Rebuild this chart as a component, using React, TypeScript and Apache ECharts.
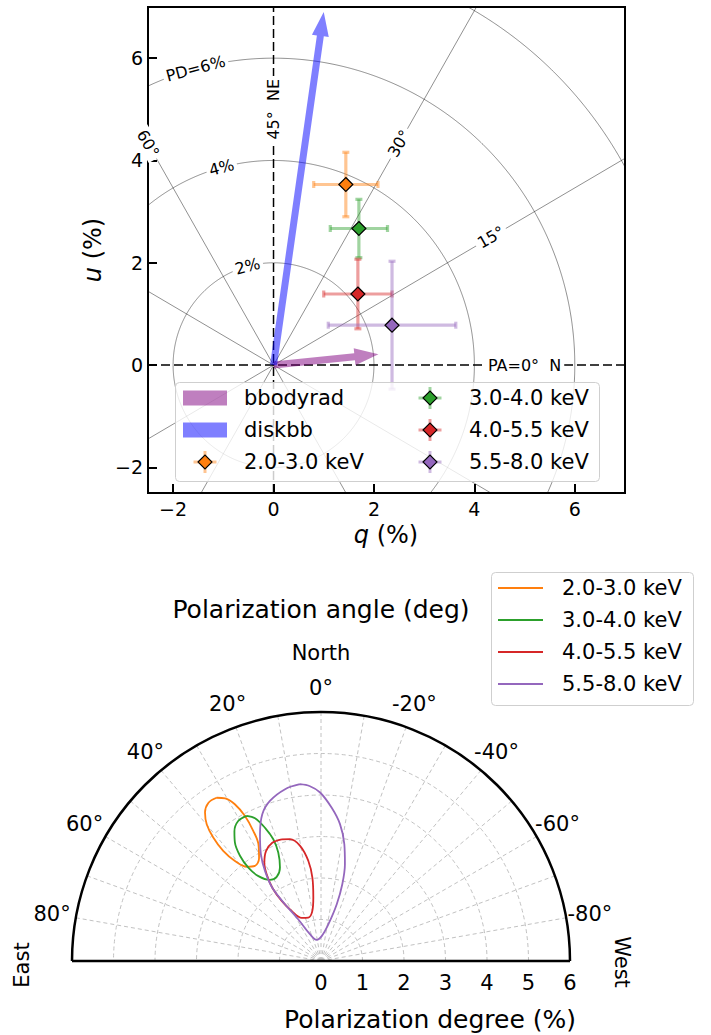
import React, { useEffect, useRef } from 'react';
import * as echarts from 'echarts';

// ---------------- data ----------------
const bands = ['2.0-3.0 keV', '3.0-4.0 keV', '4.0-5.5 keV', '5.5-8.0 keV'];
const bandColors = ['#ff7f0e', '#2ca02c', '#d62728', '#9467bd'];

// Stokes q, u (%) with 1-sigma errors
const qValues = [1.44, 1.70, 1.68, 2.36];
const uValues = [3.53, 2.67, 1.39, 0.78];
const qErrors = [0.64, 0.57, 0.68, 1.27];
const uErrors = [0.63, 0.57, 0.68, 1.25];

// model component arrows (tip q, u in %)
const modelNames = ['bbodyrad', 'diskbb'];
const modelColors = ['rgba(128,0,128,0.5)', 'rgba(0,0,255,0.5)'];
const modelTipQ = [2.09, 1.0];
const modelTipU = [0.21, 6.9];

const qTicks = [-2, 0, 2, 4, 6];
const uTicks = [-2, 0, 2, 4, 6];
const qMin = -2.5, qMax = 7;
const uMin = -2.5, uMax = 7;

// polar guide grid in the q-u plane
const pdCircles = [2, 4, 6, 8];
const pdLabelTexts = ['2%', '4%', 'PD=6%'];
const pdLabelRadii = [2, 4, 6];
const pdLabelPA = 52.5;
const paSpokes = [15, 30, 60, 75];
const paLabelTexts = ['PA=0°  N', '15°', '30°', '45°  NE', '60°'];
const paLabelAngles = [0, 15, 30, 45, 60];
const paLabelRadius = 5;

// contours in (PD %, PA deg)
const contour23 = [
  [4.67, 32.6], [4.68, 35.4], [4.54, 38.0], [4.29, 39.9], [3.95, 41.1], [3.55, 41.6],
  [3.18, 40.7], [2.89, 38.2], [2.79, 34.8], [2.89, 31.1], [3.19, 28.2], [3.53, 27.5],
  [3.95, 27.7], [4.31, 28.8], [4.55, 30.5], [4.67, 32.6],
];
const contour34 = [
  [3.93, 27.1], [3.92, 30.6], [3.76, 33.7], [3.53, 36.0], [3.20, 37.6], [2.85, 37.9],
  [2.54, 36.4], [2.31, 32.2], [2.29, 27.8], [2.46, 23.7], [2.81, 21.5], [3.15, 21.4],
  [3.48, 22.8], [3.79, 24.8], [3.93, 27.1],
];
const contour455 = [
  [3.08, 17.9], [3.08, 22.4], [2.96, 26.6], [2.73, 30.0], [2.46, 32.1], [2.12, 33.6],
  [1.73, 33.2], [1.40, 30.4], [1.14, 24.0], [1.09, 16.3], [1.22, 9.9], [1.54, 6.9],
  [2.02, 5.9], [2.43, 7.2], [2.82, 10.3], [3.03, 14.3], [3.08, 17.9],
];
const contour558 = [
  [4.29, 6.8], [4.23, 11.8], [4.05, 17.7], [3.81, 21.8], [3.39, 25.7], [2.95, 29.4],
  [2.55, 31.9], [2.12, 33.6], [1.62, 32.4], [1.14, 28.6], [0.70, 22.4], [0.52, 11.6],
  [0.60, -1.6], [0.90, -11.3], [1.42, -15.5], [1.92, -15.5], [2.40, -13.9], [2.87, -11.3],
  [3.33, -7.9], [3.70, -4.0], [4.06, 0.3], [4.22, 3.6], [4.29, 6.8],
];
const contours = [contour23, contour34, contour455, contour558];

const pdMin = 0, pdMax = 6;
const paMin = -90, paMax = 90;
const paTickLabels = [80, 60, 40, 20, 0, -20, -40, -60, -80];
const paTickLabelRadius = 6.58;

// ---------------- helpers ----------------
const FONT = '"DejaVu Sans", sans-serif';
const D2R = Math.PI / 180;

function withAlpha(hex: string, a: number) {
  const n = parseInt(hex.slice(1), 16);
  return `rgba(${(n >> 16) & 255},${(n >> 8) & 255},${n & 255},${a})`;
}

function inBox(x: number, y: number) {
  return x >= qMin && x <= qMax && y >= uMin && y <= uMax;
}

function circleSegments(r: number) {
  const segs: number[][][] = [];
  let cur: number[][] = [];
  for (let t = 0; t <= 360.0001; t += 0.2) {
    const x = r * Math.cos(t * D2R), y = r * Math.sin(t * D2R);
    if (inBox(x, y)) cur.push([x, y]);
    else { if (cur.length > 1) segs.push(cur); cur = []; }
  }
  if (cur.length > 1) segs.push(cur);
  return segs;
}

function clipLine(x0: number, y0: number, x1: number, y1: number) {
  let t0 = 0, t1 = 1;
  const dx = x1 - x0, dy = y1 - y0;
  const p = [-dx, dx, -dy, dy];
  const q = [x0 - qMin, qMax - x0, y0 - uMin, uMax - y0];
  for (let i = 0; i < 4; i++) {
    if (p[i] === 0) { if (q[i] < 0) return null; continue; }
    const t = q[i] / p[i];
    if (p[i] < 0) t0 = Math.max(t0, t); else t1 = Math.min(t1, t);
  }
  if (t0 > t1) return null;
  return [x0 + t0 * dx, y0 + t0 * dy, x0 + t1 * dx, y0 + t1 * dy];
}

const labelRows = [
  ...paLabelTexts.map((t, i) => {
    const a = 2 * paLabelAngles[i];
    return { text: t, r: paLabelRadius, ang: a, rot: a > 90 ? a - 180 : a };
  }),
  ...pdLabelTexts.map((t, i) => {
    const a = 2 * pdLabelPA;
    return { text: t, r: pdLabelRadii[i], ang: a, rot: a - 90 };
  }),
];

// ---------------- option ----------------
function buildOption(): any {
  const axisCommon = {
    type: 'value',
    splitLine: { show: false },
    axisLine: { onZero: false, lineStyle: { color: '#000', width: 2 } },
    axisLabel: {
      color: '#000', fontSize: 19, fontFamily: FONT,
      formatter: (v: number) => String(v).replace('-', '\u2212'),
    },
  };

  const series: any[] = [];

  // PD circles
  series.push({
    type: 'custom', name: 'pd-circles', xAxisIndex: 0, yAxisIndex: 0, z: 1, silent: true,
    data: pdCircles.map((r) => [r, 0]),
    renderItem: (params: any, api: any) => {
      const r = api.value(0);
      const children = circleSegments(r).map((seg) => ({
        type: 'polyline',
        shape: { points: seg.map((p) => api.coord(p)) },
        style: { stroke: 'rgba(0,0,0,0.55)', lineWidth: 0.8, fill: 'none' },
      }));
      return { type: 'group', children };
    },
  });

  // PA spokes
  series.push({
    type: 'custom', name: 'pa-spokes', xAxisIndex: 0, yAxisIndex: 0, z: 1, silent: true,
    data: paSpokes.map((pa) => [pa, 0]),
    renderItem: (params: any, api: any) => {
      const a = 2 * api.value(0) * D2R;
      const R = 15;
      const c = clipLine(-R * Math.cos(a), -R * Math.sin(a), R * Math.cos(a), R * Math.sin(a));
      if (!c) return { type: 'group', children: [] };
      const p0 = api.coord([c[0], c[1]]);
      const p1 = api.coord([c[2], c[3]]);
      return {
        type: 'line',
        shape: { x1: p0[0], y1: p0[1], x2: p1[0], y2: p1[1] },
        style: { stroke: 'rgba(0,0,0,0.55)', lineWidth: 0.8 },
      };
    },
  });

  // dashed q=0 and u=0 axes
  series.push({
    type: 'line', name: 'u0', xAxisIndex: 0, yAxisIndex: 0, z: 2, silent: true,
    data: [[qMin, 0], [qMax, 0]], symbol: 'none',
    lineStyle: { color: '#000', width: 1.5, type: [9, 4] },
  });
  series.push({
    type: 'line', name: 'q0', xAxisIndex: 0, yAxisIndex: 0, z: 2, silent: true,
    data: [[0, uMin], [0, uMax]], symbol: 'none',
    lineStyle: { color: '#000', width: 1.5, type: [9, 4] },
  });

  // labels on the guide grid
  series.push({
    type: 'custom', name: 'grid-labels', xAxisIndex: 0, yAxisIndex: 0, z: 3, silent: true,
    data: labelRows.map((l) => [l.r * Math.cos(l.ang * D2R), l.r * Math.sin(l.ang * D2R)]),
    renderItem: (params: any, api: any) => {
      const L = labelRows[params.dataIndex];
      const p = api.coord([api.value(0), api.value(1)]);
      return {
        type: 'text', x: p[0], y: p[1], rotation: L.rot * D2R,
        style: {
          text: L.text, fill: '#000', fontSize: 16, fontFamily: FONT,
          align: 'center', verticalAlign: 'middle',
          backgroundColor: '#fff', padding: [1, 3],
        },
      };
    },
  });

  // model arrows
  series.push({
    type: 'custom', name: 'model-arrows', xAxisIndex: 0, yAxisIndex: 0, z: 4, silent: true,
    data: modelNames.map((n, i) => [0, 0, modelTipQ[i], modelTipU[i]]),
    renderItem: (params: any, api: any) => {
      const p0 = api.coord([api.value(0), api.value(1)]);
      const p1 = api.coord([api.value(2), api.value(3)]);
      const dx = p1[0] - p0[0], dy = p1[1] - p0[1];
      const len = Math.hypot(dx, dy);
      const ux = dx / len, uy = dy / len;
      const nx = -uy, ny = ux;
      const w = 3.5, hw = 8.5, hl = 24;
      const bx = p1[0] - ux * hl, by = p1[1] - uy * hl;
      const pts = [
        [p0[0] + nx * w, p0[1] + ny * w],
        [bx + nx * w, by + ny * w],
        [bx + nx * hw, by + ny * hw],
        [p1[0], p1[1]],
        [bx - nx * hw, by - ny * hw],
        [bx - nx * w, by - ny * w],
        [p0[0] - nx * w, p0[1] - ny * w],
      ];
      return { type: 'polygon', shape: { points: pts }, style: { fill: modelColors[params.dataIndex] } };
    },
  });

  // error bars
  series.push({
    type: 'custom', name: 'error-bars', xAxisIndex: 0, yAxisIndex: 0, z: 5, silent: true,
    data: bands.map((b, i) => [qValues[i], uValues[i], qErrors[i], uErrors[i]]),
    renderItem: (params: any, api: any) => {
      const q = api.value(0), u = api.value(1), eq = api.value(2), eu = api.value(3);
      const l = api.coord([q - eq, u]), r = api.coord([q + eq, u]);
      const t = api.coord([q, u + eu]), b = api.coord([q, u - eu]);
      const style = { stroke: withAlpha(bandColors[params.dataIndex], 0.45), lineWidth: 3.2 };
      const cap = 3.5;
      const ln = (x1: number, y1: number, x2: number, y2: number) => ({ type: 'line', shape: { x1, y1, x2, y2 }, style });
      return {
        type: 'group',
        children: [
          ln(l[0], l[1], r[0], r[1]),
          ln(t[0], t[1], b[0], b[1]),
          ln(l[0], l[1] - cap, l[0], l[1] + cap),
          ln(r[0], r[1] - cap, r[0], r[1] + cap),
          ln(t[0] - cap, t[1], t[0] + cap, t[1]),
          ln(b[0] - cap, b[1], b[0] + cap, b[1]),
        ],
      };
    },
  });

  // diamond markers
  bands.forEach((b, i) => {
    series.push({
      type: 'scatter', name: b, xAxisIndex: 0, yAxisIndex: 0, z: 6,
      data: [[qValues[i], uValues[i]]],
      symbol: 'diamond', symbolSize: 14,
      itemStyle: { color: bandColors[i], borderColor: '#000', borderWidth: 1.2, opacity: 1 },
    });
  });

  // polar contours
  bands.forEach((b, i) => {
    series.push({
      type: 'line', name: b + ' contour', coordinateSystem: 'polar', polarIndex: 0, z: 5,
      data: contours[i], symbol: 'none', smooth: 0.35,
      lineStyle: { color: bandColors[i], width: 1.8 },
      itemStyle: { color: bandColors[i] },
    });
  });

  // polar angle tick labels, centred at a fixed radius outside the arc
  series.push({
    type: 'custom', name: 'pa-tick-labels', coordinateSystem: 'polar', polarIndex: 0, z: 6, silent: true,
    data: paTickLabels.map((a) => [paTickLabelRadius, a]),
    renderItem: (params: any, api: any) => {
      const p = api.coord([api.value(0), api.value(1)]);
      return {
        type: 'text', x: p[0], y: p[1],
        style: {
          text: `${paTickLabels[params.dataIndex]}°`, fill: '#000', fontSize: 21, fontFamily: FONT,
          align: 'center', verticalAlign: 'middle',
        },
      };
    },
  });

  // ---------- graphic (legends, titles) ----------
  const g: any[] = [];
  // top legend
  g.push({
    type: 'rect', z: 50, shape: { x: 175.5, y: 382.5, width: 424, height: 99, r: 4 },
    style: { fill: 'rgba(255,255,255,0.8)', stroke: '#cfcfcf', lineWidth: 1 },
  });
  const rowY = [398, 430, 462];
  const legendItems: any[] = [
    { kind: 'patch', label: modelNames[0], color: modelColors[0], x: 183, y: rowY[0] },
    { kind: 'patch', label: modelNames[1], color: modelColors[1], x: 183, y: rowY[1] },
    { kind: 'err', label: bands[0], color: bandColors[0], x: 205, y: rowY[2] },
    { kind: 'err', label: bands[1], color: bandColors[1], x: 430, y: rowY[0] },
    { kind: 'err', label: bands[2], color: bandColors[2], x: 430, y: rowY[1] },
    { kind: 'err', label: bands[3], color: bandColors[3], x: 430, y: rowY[2] },
  ];
  legendItems.forEach((it, k) => {
    if (it.kind === 'patch') {
      g.push({ type: 'rect', z: 51, shape: { x: it.x, y: it.y - 7.5, width: 44, height: 15 }, style: { fill: it.color } });
    } else {
      const st = { stroke: withAlpha(it.color, 0.45), lineWidth: 3 };
      g.push({ type: 'line', z: 51, shape: { x1: it.x - 11.5, y1: it.y, x2: it.x + 11.5, y2: it.y }, style: st });
      g.push({ type: 'line', z: 51, shape: { x1: it.x, y1: it.y - 11, x2: it.x, y2: it.y + 11 }, style: st });
      g.push({
        type: 'polygon', z: 52,
        shape: { points: [[it.x - 7, it.y], [it.x, it.y - 7], [it.x + 7, it.y], [it.x, it.y + 7]] },
        style: { fill: it.color, stroke: '#000', lineWidth: 1.1 },
      });
    }
    g.push({
      type: 'text', z: 52, x: k < 3 ? 244 : 469, y: it.y,
      style: { text: it.label, fill: '#000', fontSize: 21, fontFamily: FONT, align: 'left', verticalAlign: 'middle' },
    });
  });

  // axis titles of top panel
  g.push({
    type: 'text', z: 20, x: 386, y: 535,
    style: {
      text: '{i|q} (%)', fill: '#000', fontSize: 24, fontFamily: FONT, align: 'center', verticalAlign: 'middle',
      rich: { i: { fontStyle: 'italic', fontSize: 24, fontFamily: FONT, fill: '#000' } },
    },
  });
  g.push({
    type: 'text', z: 20, x: 93, y: 250, rotation: Math.PI / 2,
    style: {
      text: '{i|u} (%)', fill: '#000', fontSize: 24, fontFamily: FONT, align: 'center', verticalAlign: 'middle',
      rich: { i: { fontStyle: 'italic', fontSize: 24, fontFamily: FONT, fill: '#000' } },
    },
  });

  // bottom panel texts
  g.push({ type: 'text', z: 20, x: 321, y: 609, style: { text: 'Polarization angle (deg)', fill: '#000', fontSize: 25, fontFamily: FONT, align: 'center', verticalAlign: 'middle' } });
  g.push({ type: 'text', z: 20, x: 321, y: 653, style: { text: 'North', fill: '#000', fontSize: 21, fontFamily: FONT, align: 'center', verticalAlign: 'middle' } });
  g.push({ type: 'text', z: 20, x: 22, y: 965, rotation: Math.PI / 2, style: { text: 'East', fill: '#000', fontSize: 21, fontFamily: FONT, align: 'center', verticalAlign: 'middle' } });
  g.push({ type: 'text', z: 20, x: 622, y: 962, rotation: -Math.PI / 2, style: { text: 'West', fill: '#000', fontSize: 21, fontFamily: FONT, align: 'center', verticalAlign: 'middle' } });
  g.push({ type: 'text', z: 20, x: 430, y: 1019, style: { text: 'Polarization degree (%)', fill: '#000', fontSize: 25, fontFamily: FONT, align: 'center', verticalAlign: 'middle' } });
  // baseline of the half-polar plot
  g.push({ type: 'line', z: 20, shape: { x1: 72, y1: 961, x2: 570, y2: 961 }, style: { stroke: '#000', lineWidth: 2.5 } });

  // bottom legend
  g.push({
    type: 'rect', z: 50, shape: { x: 491.5, y: 572.5, width: 202, height: 133, r: 4 },
    style: { fill: 'rgba(255,255,255,0.8)', stroke: '#cfcfcf', lineWidth: 1 },
  });
  const rowY2 = [588, 620, 652, 684];
  bands.forEach((b, i) => {
    g.push({ type: 'line', z: 51, shape: { x1: 498, y1: rowY2[i], x2: 543, y2: rowY2[i] }, style: { stroke: bandColors[i], lineWidth: 1.8 } });
    g.push({ type: 'text', z: 51, x: 562, y: rowY2[i], style: { text: b, fill: '#000', fontSize: 21, fontFamily: FONT, align: 'left', verticalAlign: 'middle' } });
  });

  return {
    animation: false,
    backgroundColor: '#fff',
    textStyle: { fontFamily: FONT },
    grid: {
      left: 148, top: 7, width: 477, height: 486,
      show: true, borderColor: '#000', borderWidth: 2, backgroundColor: 'transparent',
    },
    xAxis: {
      ...axisCommon, min: qMin, max: qMax, position: 'bottom',
      axisTick: { inside: true, length: 9, lineStyle: { color: '#000', width: 2 }, customValues: qTicks },
      axisLabel: { ...axisCommon.axisLabel, margin: 6, customValues: qTicks },
    },
    yAxis: {
      ...axisCommon, min: uMin, max: uMax, position: 'left',
      axisTick: { inside: true, length: 9, lineStyle: { color: '#000', width: 2 }, customValues: uTicks },
      axisLabel: { ...axisCommon.axisLabel, margin: 5, customValues: uTicks },
    },
    polar: { center: [321, 961], radius: 249 },
    angleAxis: {
      type: 'value', min: paMin, max: paMax, interval: 10,
      startAngle: 0, endAngle: 180, clockwise: false,
      axisLine: { show: true, lineStyle: { color: '#000', width: 2.5 } },
      axisTick: { show: false },
      axisLabel: { show: false },
      splitLine: { show: true, lineStyle: { color: '#c2c2c2', width: 1, type: [4, 3] } },
    },
    radiusAxis: {
      type: 'value', min: pdMin, max: pdMax, interval: 1,
      axisLine: { show: false },
      axisTick: { show: false },
      axisLabel: { margin: -11, verticalAlign: 'top', color: '#000', fontSize: 21, fontFamily: FONT },
      splitLine: { show: true, lineStyle: { color: '#c2c2c2', width: 1, type: [4, 3] } },
    },
    graphic: g,
    series,
  };
}

export default function App() {
  const ref = useRef<HTMLDivElement>(null);
  useEffect(() => {
    if (!ref.current) return;
    const chart = echarts.init(ref.current, null, { renderer: 'svg' });
    chart.setOption(buildOption());
    return () => chart.dispose();
  }, []);
  return (
    <div
      ref={ref}
      style={{ position: 'absolute', left: 0, top: 0, width: 711, height: 1035, background: '#fff' }}
    />
  );
}
